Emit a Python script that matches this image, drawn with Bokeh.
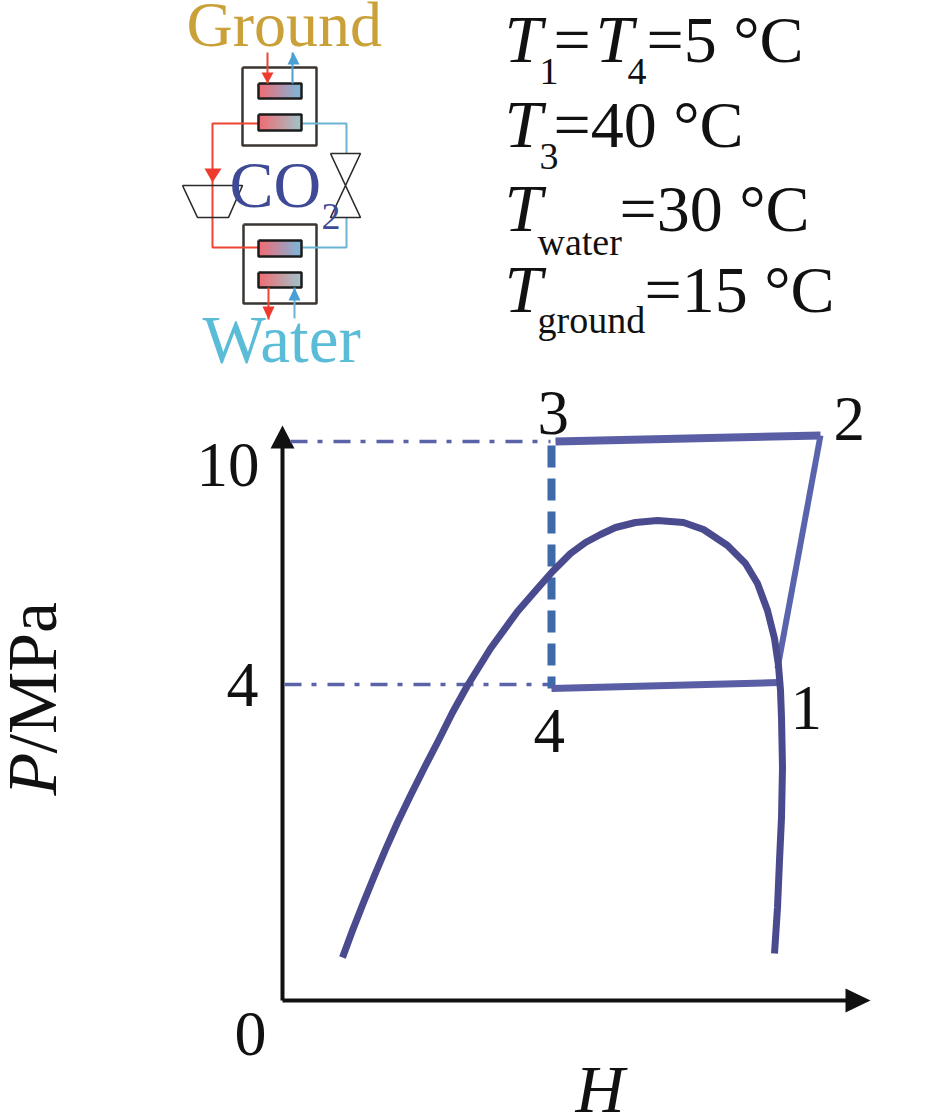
from bokeh.plotting import figure
from bokeh.core.properties import value
from bokeh.embed import file_html
from bokeh.resources import INLINE

# ---- data (x, y in picture units, y downwards)
sat_x = [342, 352, 363, 374, 385, 397, 410, 424, 438, 452, 467, 490, 517, 537, 552, 570, 585, 600, 615, 635, 657, 683, 703, 727, 745, 757, 767, 774, 778, 780, 781, 782, 781, 779, 777, 774]
sat_y = [957, 930, 902, 875, 849, 822, 795, 767, 740, 712, 685, 648, 611, 588, 571, 553, 542, 534, 527, 522, 520, 522, 529, 545, 563, 583, 610, 638, 665, 690, 717, 767, 817, 860, 907, 953]
cycle_top_x = [555, 820]
cycle_top_y = [441, 435]
cycle_comp_x = [820, 777]
cycle_comp_y = [435, 668]
cycle_bot_x = [551, 778]
cycle_bot_y = [688, 682]
valve_x = [551, 551]
valve_y = [445, 688]
guide_hi_x = [290, 550]
guide_hi_y = [441, 441]
guide_lo_x = [284, 550]
guide_lo_y = [684, 684]
y_axis_x = [282, 282]
y_axis_y = [1000, 445]
x_axis_x = [282, 850]
x_axis_y = [1000, 1000]

texts = [
    ("Ground", 186, 47, 64, "normal", "#c9a138"),
    ("CO", 229, 208, 66, "normal", "#3f4a96"),
    ("2", 321, 230, 38, "normal", "#3f4a96"),
    ("Water", 202, 363, 67, "normal", "#5bbcd8"),
    ("T", 504, 63, 68, "italic", "#111111"),
    ("1", 539, 85, 38, "normal", "#111111"),
    ("=", 553, 63, 66, "normal", "#111111"),
    ("T", 595, 63, 68, "italic", "#111111"),
    ("4", 627, 85, 38, "normal", "#111111"),
    ("=5 °C", 646, 63, 66, "normal", "#111111"),
    ("T", 504, 148, 68, "italic", "#111111"),
    ("3", 539, 170, 38, "normal", "#111111"),
    ("=40 °C", 553, 148, 66, "normal", "#111111"),
    ("T", 504, 232, 68, "italic", "#111111"),
    ("water", 537, 255, 38, "normal", "#111111"),
    ("=30 °C", 619, 232, 66, "normal", "#111111"),
    ("T", 504, 313, 68, "italic", "#111111"),
    ("ground", 537, 333, 38, "normal", "#111111"),
    ("=15 °C", 644, 313, 66, "normal", "#111111"),
    ("3", 537, 435, 63, "normal", "#111111"),
    ("2", 833, 441, 63, "normal", "#111111"),
    ("1", 790, 730, 63, "normal", "#111111"),
    ("4", 533, 753, 63, "normal", "#111111"),
    ("10", 196, 487, 63, "normal", "#111111"),
    ("4", 226, 708, 64, "normal", "#111111"),
    ("0", 234, 1057, 64, "normal", "#111111"),
    ("H", 575, 1113, 68, "italic", "#111111"),
]
rot_texts = [("P", 57, 795, 70, "italic"), ("/MPa", 57, 753, 70, "normal")]

boxes = [(242, 67, 316, 145), (243, 224, 316, 303)]
exchangers = [
    (258, 83, 301, 98, "#ee3b45", "#4f9fd0"),
    (258, 114, 301, 130, "#ee3b45", "#7fb0b8"),
    (258, 240, 301, 256, "#ee3b45", "#4f9fd0"),
    (258, 272, 301, 287, "#ee3b45", "#7fb0b8"),
]
red_pipe = ([258, 212, 212, 258], [123, 123, 247, 247])
blue_pipe_top = ([302, 346, 346], [123, 123, 153])
blue_pipe_bot = ([346, 346, 302], [217, 247, 247])
valve_shape = ([330, 360, 330, 360, 330], [153, 153, 217, 217, 153])
compressor = ([182, 242, 228, 197, 182], [185, 185, 217, 217, 185])
flows = [
    ([267, 267], [52, 83], "#ee4433"),
    ([292, 292], [83, 52], "#4f9fd0"),
    ([268, 268], [287, 319], "#ee4433"),
    ([294, 294], [318, 287], "#6ab4d2"),
]
heads = [
    ([204, 221, 212], [168, 168, 182], "#ee3b2e"),
    ([261, 273, 267], [72, 72, 83], "#ee3b2e"),
    ([287, 299, 293], [64, 64, 52], "#4a9fd4"),
    ([262, 274, 268], [306, 306, 319], "#ee3b2e"),
    ([288, 300, 294], [300, 300, 287], "#4a9fd4"),
]
axis_heads = [
    ([270, 294, 282], [448, 448, 425]),
    ([845, 845, 870], [988, 1012, 1000]),
]

# ---- page
p = figure(width=927, height=1119, x_range=(0, 927), y_range=(1119, 0),
           output_backend="svg", toolbar_location=None, min_border=0)
p.axis.visible = False
p.grid.visible = False
p.outline_line_color = None
p.background_fill_color = "white"

INK = "#111111"
BASE = 0.36  # baseline correction of the text glyph, in em

def mix(a, b, t):
    ca = [int(a[i:i + 2], 16) for i in (1, 3, 5)]
    cb = [int(b[i:i + 2], 16) for i in (1, 3, 5)]
    return "#%02x%02x%02x" % tuple(round(u + (v - u) * t) for u, v in zip(ca, cb))

# schematic
for x0, y0, x1, y1 in boxes:
    p.line([x0, x1, x1, x0, x0], [y0, y0, y1, y1, y0], line_color="#3a3530", line_width=2.5)
for xs, ys, c in [(*red_pipe, "#ee4433"), (*blue_pipe_top, "#6ab4d2"), (*blue_pipe_bot, "#6ab4d2")]:
    p.line(xs, ys, line_color=c, line_width=2)
p.line(*valve_shape, line_color="#2a2a2a", line_width=1.6)
p.line(*compressor, line_color="#2a2a2a", line_width=1.6)
for x0, y0, x1, y1, c0, c1 in exchangers:
    n = int(x1 - x0)
    p.quad(left=[x0 + i for i in range(n)], right=[x0 + i + 1 for i in range(n)],
           top=[y0] * n, bottom=[y1] * n,
           fill_color=[mix(c0, c1, i / (n - 1)) for i in range(n)], line_color=None)
    p.line([x0, x1, x1, x0, x0], [y0, y0, y1, y1, y0], line_color="#1c1c1c", line_width=2.5)
for xs, ys, c in flows:
    p.line(xs, ys, line_color=c, line_width=2)
for xs, ys, c in heads:
    p.patch(xs, ys, fill_color=c, line_color=None)

# P-H diagram
p.line(y_axis_x, y_axis_y, line_color=INK, line_width=4)
p.line(x_axis_x, x_axis_y, line_color=INK, line_width=4)
for xs, ys in axis_heads:
    p.patch(xs, ys, fill_color=INK, line_color=None)
for xs, ys in [(guide_hi_x, guide_hi_y), (guide_lo_x, guide_lo_y)]:
    p.line(xs, ys, line_color="#5a63a8", line_width=3.5, line_dash="17 10 5 11")
p.line(valve_x, valve_y, line_color="#3f69a8", line_width=8, line_dash="22 11")
p.line(cycle_top_x, cycle_top_y, line_color="#5a5fa5", line_width=8)
p.line(cycle_comp_x, cycle_comp_y, line_color="#5a64ac", line_width=6)
p.line(cycle_bot_x, cycle_bot_y, line_color="#5a5fa5", line_width=7)
p.line(sat_x, sat_y, line_color="#4a4a8e", line_width=7, line_join="round")

# texts
FONT = value("Liberation Serif")
for t, x, y, s, st, c in texts:
    p.text([x], [y - BASE * s], text=[t], text_font=FONT, text_font_size=value(f"{s}px"),
           text_font_style=st, text_color=c, text_baseline="alphabetic", text_align="left")
for t, x, y, s, st in rot_texts:
    p.text([x - BASE * s], [y], text=[t], text_font=FONT, text_font_size=value(f"{s}px"),
           text_font_style=st, text_color=INK, text_baseline="alphabetic", text_align="left",
           angle=1.5708)

open("out.html", "w").write(file_html(p, INLINE))
